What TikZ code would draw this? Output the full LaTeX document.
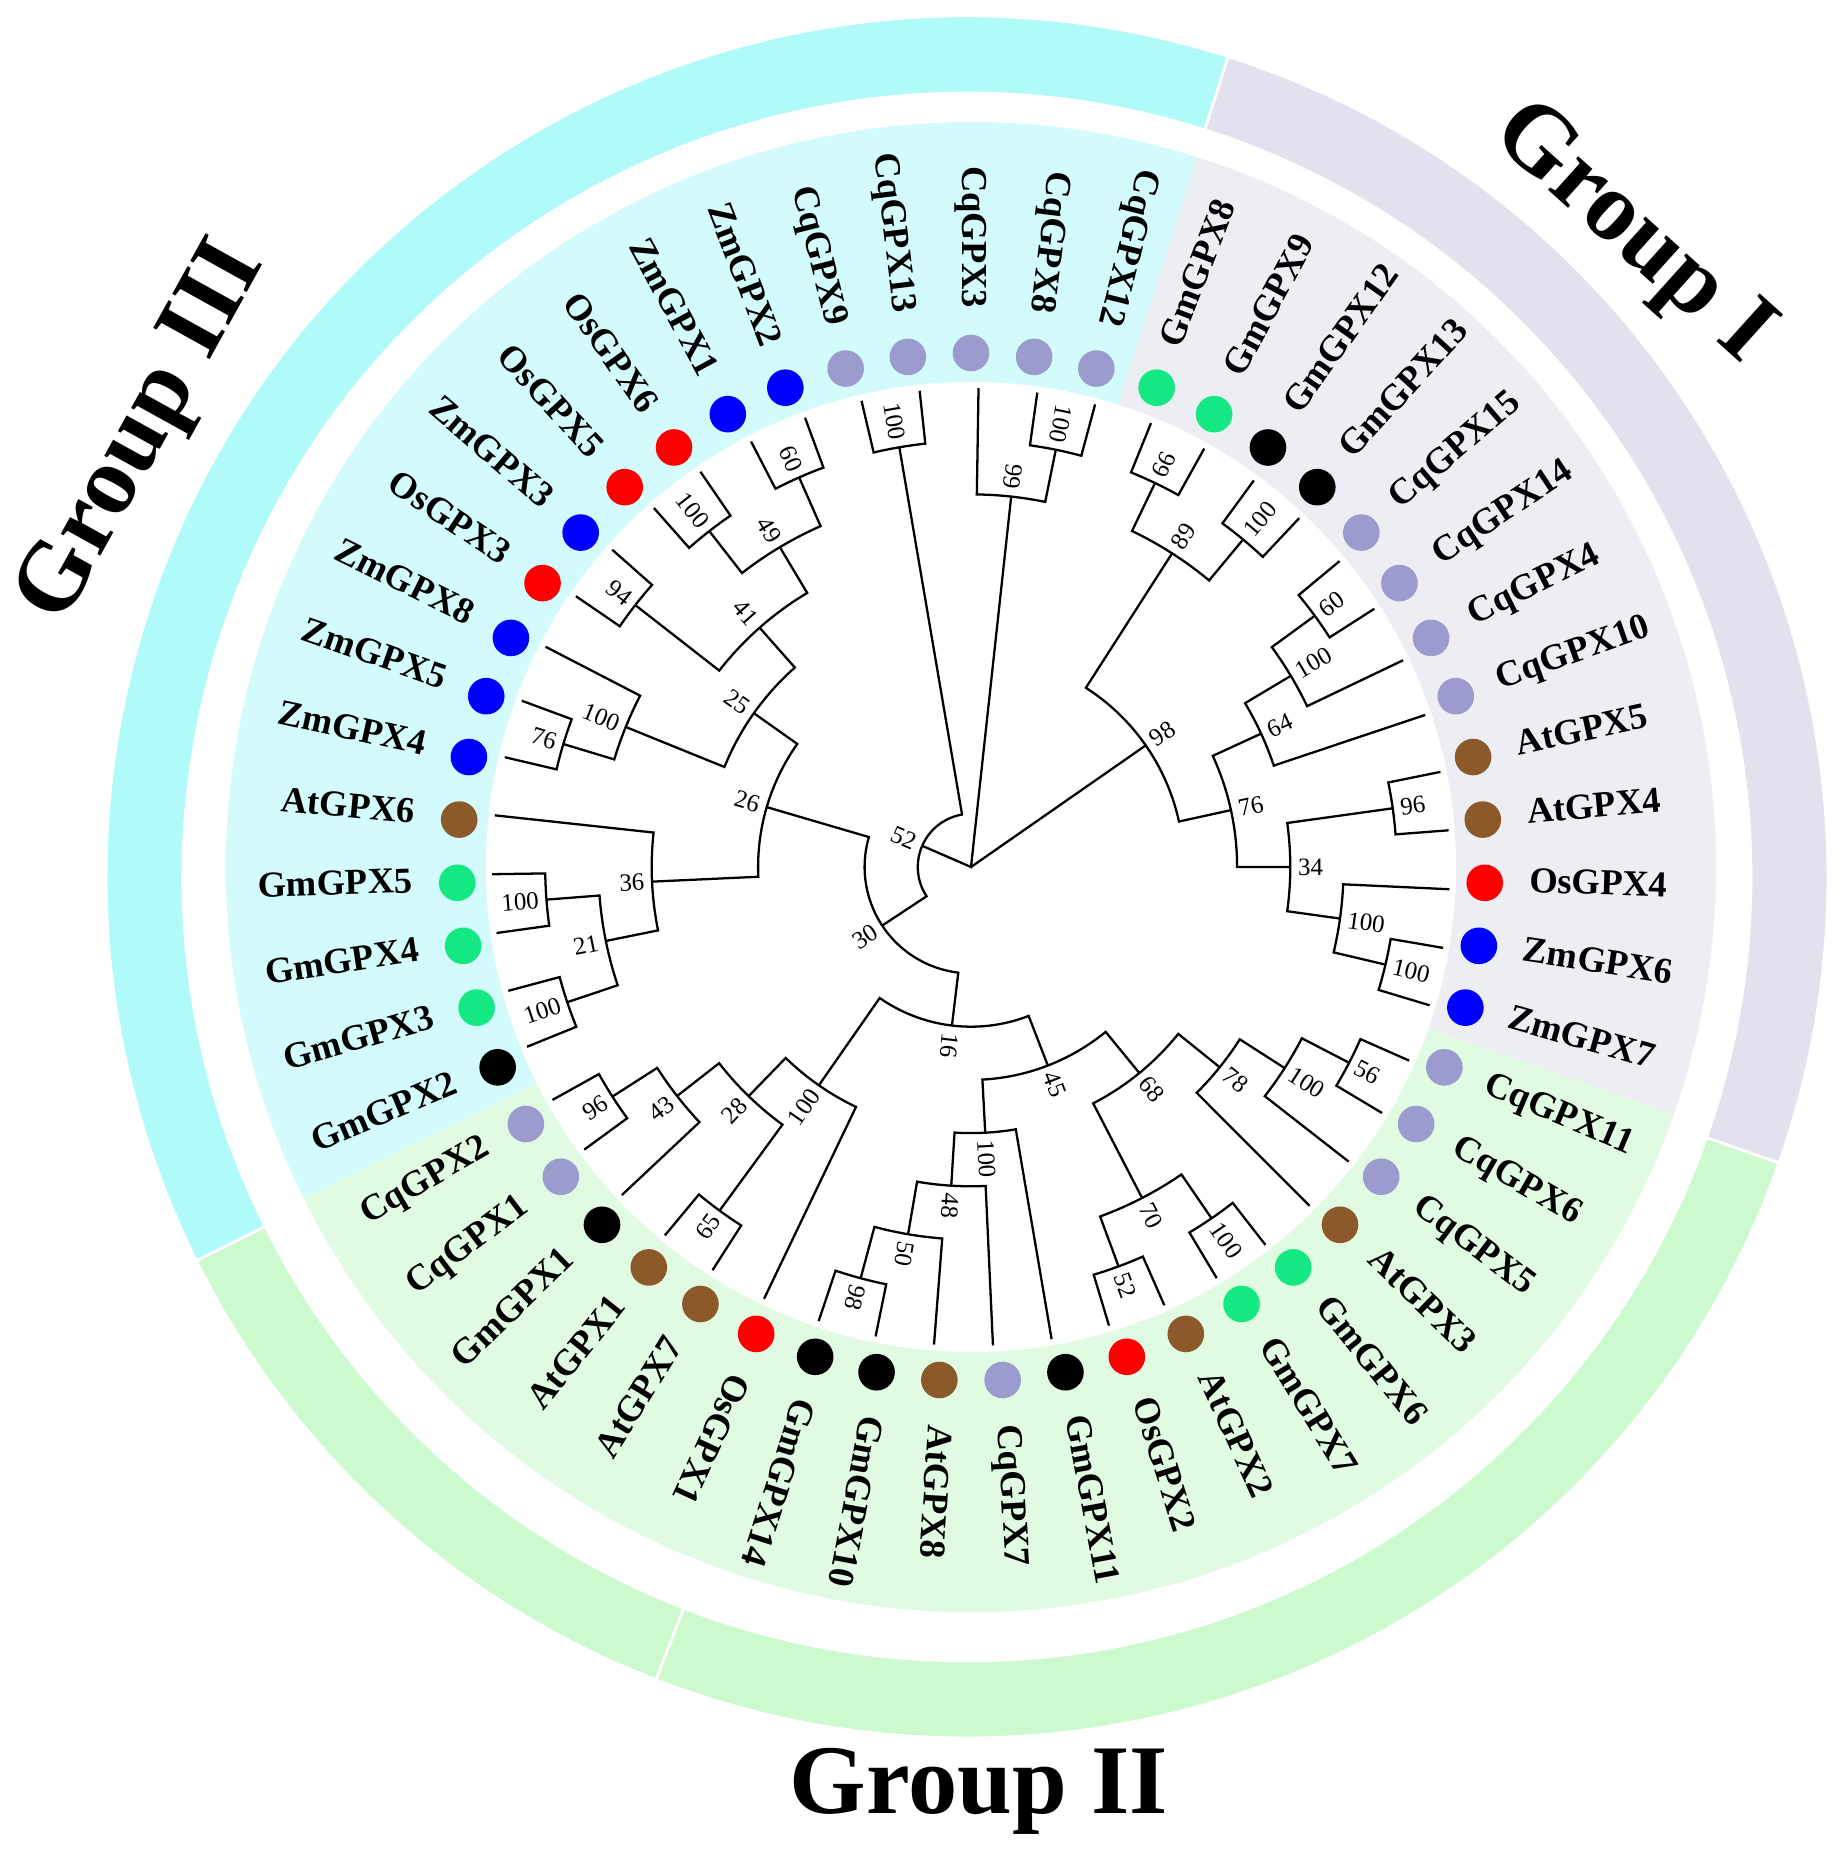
\documentclass[tikz,border=0pt]{standalone}
\usepackage{fontspec}
\setmainfont{Liberation Serif}

\definecolor{cqdot}{RGB}{155,155,205}
\definecolor{zmdot}{RGB}{0,0,255}
\definecolor{osdot}{RGB}{255,0,0}
\definecolor{gmdotg}{RGB}{20,232,130}
\definecolor{gmdotk}{RGB}{0,0,0}
\definecolor{atdot}{RGB}{140,90,42}
\definecolor{ringI}{RGB}{226,226,238}
\definecolor{ringII}{RGB}{204,250,206}
\definecolor{ringIII}{RGB}{176,250,250}
\definecolor{bgI}{RGB}{237,237,244}
\definecolor{bgII}{RGB}{224,251,226}
\definecolor{bgIII}{RGB}{212,251,251}

\tikzset{
  branch/.style={line width=0.65pt},
  boot/.style={font=\fontsize{7.1}{8}\selectfont, inner xsep=2pt, inner ysep=1pt, text height=4.8pt, text depth=0pt},
  leaf/.style={font=\bfseries\fontsize{10.4}{12}\selectfont, inner sep=0pt, text height=7pt, text depth=2.3pt},
  dot/.style={circle, inner sep=0pt, minimum size=0.366cm},
  grp/.style={font=\bfseries\fontsize{28}{32}\selectfont, inner sep=0pt},
  ringpart/.style={draw=white, line width=0.8pt},
}

% clade: name, radius, first child, its slot, second child, its slot, support
% (the tree sits 0.9 degrees clockwise of the dots, hence 89.1)
\newcommand{\clade}[7]{%
  \pgfmathsetmacro\clpos{(#4+#6)/2}%
  \pgfmathsetmacro\clA{89.1-#4*7.0588235}%
  \pgfmathsetmacro\clB{89.1-#6*7.0588235}%
  \pgfmathsetmacro\clM{89.1-\clpos*7.0588235}%
  \coordinate (#1) at (\clM:#2);
  \coordinate (#1a) at (\clA:#2);
  \coordinate (#1b) at (\clB:#2);
  \draw[branch] (#3) -- (#1a) arc[start angle=\clA, end angle=\clB, radius=#2] -- (#5);
  \pgfmathtruncatemacro\clout{and(\clpos>2.5,\clpos<29.5)}%
  \ifnum\clout=1
    \node[boot, anchor=west, rotate=\clM] (#1s) at (#1) {#7};
  \else
    \node[boot, anchor=east, rotate=\clM+180] (#1s) at (#1) {#7};
  \fi
}

\begin{document}
\begin{tikzpicture}[x=0.01cm, y=0.01cm]
  \fill[white] (-971,-988) rectangle (873,867);
  \useasboundingbox (-971,-988) rectangle (873,867);

  % outer ring
  \filldraw[ringpart, fill=ringI, shift={(-4,-10)}] (72.35:784) arc[start angle=72.35, end angle=-19.41, radius=784] -- (-19.41:861) arc[start angle=-19.41, end angle=72.35, radius=861] -- cycle;
  \filldraw[ringpart, fill=ringII, shift={(-4,-10)}] (-19.41:784) arc[start angle=-19.41, end angle=-111.18, radius=784] -- (-111.18:861) arc[start angle=-111.18, end angle=-19.41, radius=861] -- cycle;
  \filldraw[ringpart, fill=ringII, shift={(-4,-10)}] (-111.18:784) arc[start angle=-111.18, end angle=-153.53, radius=784] -- (-153.53:861) arc[start angle=-153.53, end angle=-111.18, radius=861] -- cycle;
  \filldraw[ringpart, fill=ringIII, shift={(-4,-10)}] (-153.53:784) arc[start angle=-153.53, end angle=-287.65, radius=784] -- (-287.65:861) arc[start angle=-287.65, end angle=-153.53, radius=861] -- cycle;

  % shaded groups
  \fill[bgI] (0,0) -- (72.35:745) arc[start angle=72.35, end angle=-19.41, radius=745] -- cycle;
  \fill[bgII] (0,0) -- (-19.41:745) arc[start angle=-19.41, end angle=-153.53, radius=745] -- cycle;
  \fill[bgIII] (0,0) -- (-153.53:745) arc[start angle=-153.53, end angle=-287.65, radius=745] -- cycle;
  \fill[white] (0,0) circle[radius=485];

  % leaves
  \foreach \k/\gname/\gcol in {0/CqGPX3/cqdot, 1/CqGPX8/cqdot, 2/CqGPX12/cqdot, 3/GmGPX8/gmdotg,
      4/GmGPX9/gmdotg, 5/GmGPX12/gmdotk, 6/GmGPX13/gmdotk, 7/CqGPX15/cqdot, 8/CqGPX14/cqdot,
      9/CqGPX4/cqdot, 10/CqGPX10/cqdot, 11/AtGPX5/atdot, 12/AtGPX4/atdot, 13/OsGPX4/osdot,
      14/ZmGPX6/zmdot, 15/ZmGPX7/zmdot, 16/CqGPX11/cqdot, 17/CqGPX6/cqdot, 18/CqGPX5/cqdot,
      19/AtGPX3/atdot, 20/GmGPX6/gmdotg, 21/GmGPX7/gmdotg, 22/AtGPX2/atdot, 23/OsGPX2/osdot,
      24/GmGPX11/gmdotk, 25/CqGPX7/cqdot, 26/AtGPX8/atdot, 27/GmGPX10/gmdotk, 28/GmGPX14/gmdotk,
      29/OsGPX1/osdot, 30/AtGPX7/atdot, 31/AtGPX1/atdot, 32/GmGPX1/gmdotk, 33/CqGPX1/cqdot,
      34/CqGPX2/cqdot, 35/GmGPX2/gmdotk, 36/GmGPX3/gmdotg, 37/GmGPX4/gmdotg, 38/GmGPX5/gmdotg,
      39/AtGPX6/atdot, 40/ZmGPX4/zmdot, 41/ZmGPX5/zmdot, 42/ZmGPX8/zmdot, 43/OsGPX3/osdot,
      44/ZmGPX3/zmdot, 45/OsGPX5/osdot, 46/OsGPX6/osdot, 47/ZmGPX1/zmdot, 48/ZmGPX2/zmdot,
      49/CqGPX9/cqdot, 50/CqGPX13/cqdot} {
    \pgfmathsetmacro\la{90-\k*7.0588235}
    \coordinate (t\k) at (\la-0.9:479);
    \node[dot, fill=\gcol] (d\k) at (\la:514) {};
    \pgfmathtruncatemacro\flip{or(\k<3,\k>29)}
    \ifnum\flip=1
      \node[leaf, anchor=east, rotate=\la+180] (l\k) at (\la:558) {\gname};
    \else
      \node[leaf, anchor=west, rotate=\la] (l\k) at (\la:558) {\gname};
    \fi
  }

  % group I
  \clade{c1}{425.8}{t1}{1}{t2}{2}{100}
  \clade{c2}{372.6}{t0}{0}{c1}{1.5}{99}
  \clade{c3}{425.8}{t3}{3}{t4}{4}{66}
  \clade{c4}{425.8}{t5}{5}{t6}{6}{100}
  \clade{c5}{372.6}{c3}{3.5}{c4}{5.5}{89}
  \clade{c6}{425.8}{t7}{7}{t8}{8}{60}
  \clade{c7}{372.6}{c6}{7.5}{t9}{9}{100}
  \clade{c8}{319.3}{c7}{8.25}{t10}{10}{64}
  \clade{c9}{425.8}{t11}{11}{t12}{12}{96}
  \clade{c10}{425.8}{t14}{14}{t15}{15}{100}
  \clade{c11}{372.6}{t13}{13}{c10}{14.5}{100}
  \clade{c12}{319.3}{c9}{11.5}{c11}{13.75}{34}
  \clade{c13}{266.1}{c8}{9.125}{c12}{12.625}{76}
  \clade{c14}{212.9}{c5}{4.5}{c13}{10.875}{98}
  % group II
  \clade{c15}{425.8}{t16}{16}{t17}{17}{56}
  \clade{c16}{372.6}{c15}{16.5}{t18}{18}{100}
  \clade{c17}{319.3}{c16}{17.25}{t19}{19}{78}
  \clade{c18}{425.8}{t20}{20}{t21}{21}{100}
  \clade{c19}{425.8}{t22}{22}{t23}{23}{52}
  \clade{c20}{372.6}{c18}{20.5}{c19}{22.5}{70}
  \clade{c21}{266.1}{c17}{18.125}{c20}{21.5}{68}
  \clade{c22}{425.8}{t27}{27}{t28}{28}{98}
  \clade{c23}{372.6}{t26}{26}{c22}{27.5}{50}
  \clade{c24}{319.3}{t25}{25}{c23}{26.75}{48}
  \clade{c25}{266.1}{t24}{24}{c24}{25.875}{100}
  \clade{c26}{212.9}{c21}{19.8125}{c25}{24.9375}{45}
  \clade{c27}{425.8}{t30}{30}{t31}{31}{65}
  \clade{c28}{425.8}{t33}{33}{t34}{34}{96}
  \clade{c29}{372.6}{t32}{32}{c28}{33.5}{43}
  \clade{c30}{319.3}{c27}{30.5}{c29}{32.75}{28}
  \clade{c31}{266.1}{t29}{29}{c30}{31.625}{100}
  \clade{c32}{159.7}{c26}{22.375}{c31}{30.3125}{16}
  % group III
  \clade{c33}{425.8}{t35}{35}{t36}{36}{100}
  \clade{c34}{425.8}{t37}{37}{t38}{38}{100}
  \clade{c35}{372.6}{c33}{35.5}{c34}{37.5}{21}
  \clade{c36}{319.3}{c35}{36.5}{t39}{39}{36}
  \clade{c37}{425.8}{t40}{40}{t41}{41}{76}
  \clade{c38}{372.6}{c37}{40.5}{t42}{42}{100}
  \clade{c39}{425.8}{t43}{43}{t44}{44}{94}
  \clade{c40}{425.8}{t45}{45}{t46}{46}{100}
  \clade{c41}{425.8}{t47}{47}{t48}{48}{60}
  \clade{c42}{372.6}{c40}{45.5}{c41}{47.5}{49}
  \clade{c43}{319.3}{c39}{43.5}{c42}{46.5}{41}
  \clade{c44}{266.1}{c38}{41.25}{c43}{45}{25}
  \clade{c45}{212.9}{c36}{37.75}{c44}{43.125}{26}
  \clade{c46}{106.4}{c32}{26.34375}{c45}{40.4375}{30}
  \clade{c47}{425.8}{t49}{49}{t50}{50}{100}
  \clade{c48}{53.2}{c46}{33.390625}{c47}{49.5}{52}

  % root
  \coordinate (root) at (0,0);
  \draw[branch] (c48) -- (root) -- (c2);
  \draw[branch] (root) -- (c14);

  % group names
  \node[grp, rotate=-42] (g1) at (660,632) {Group I};
  \node[grp, anchor=base] (g2) at (8,-946) {Group II};
  \node[grp, rotate=61] (g3) at (-827,434) {Group III};
\end{tikzpicture}
\end{document}
